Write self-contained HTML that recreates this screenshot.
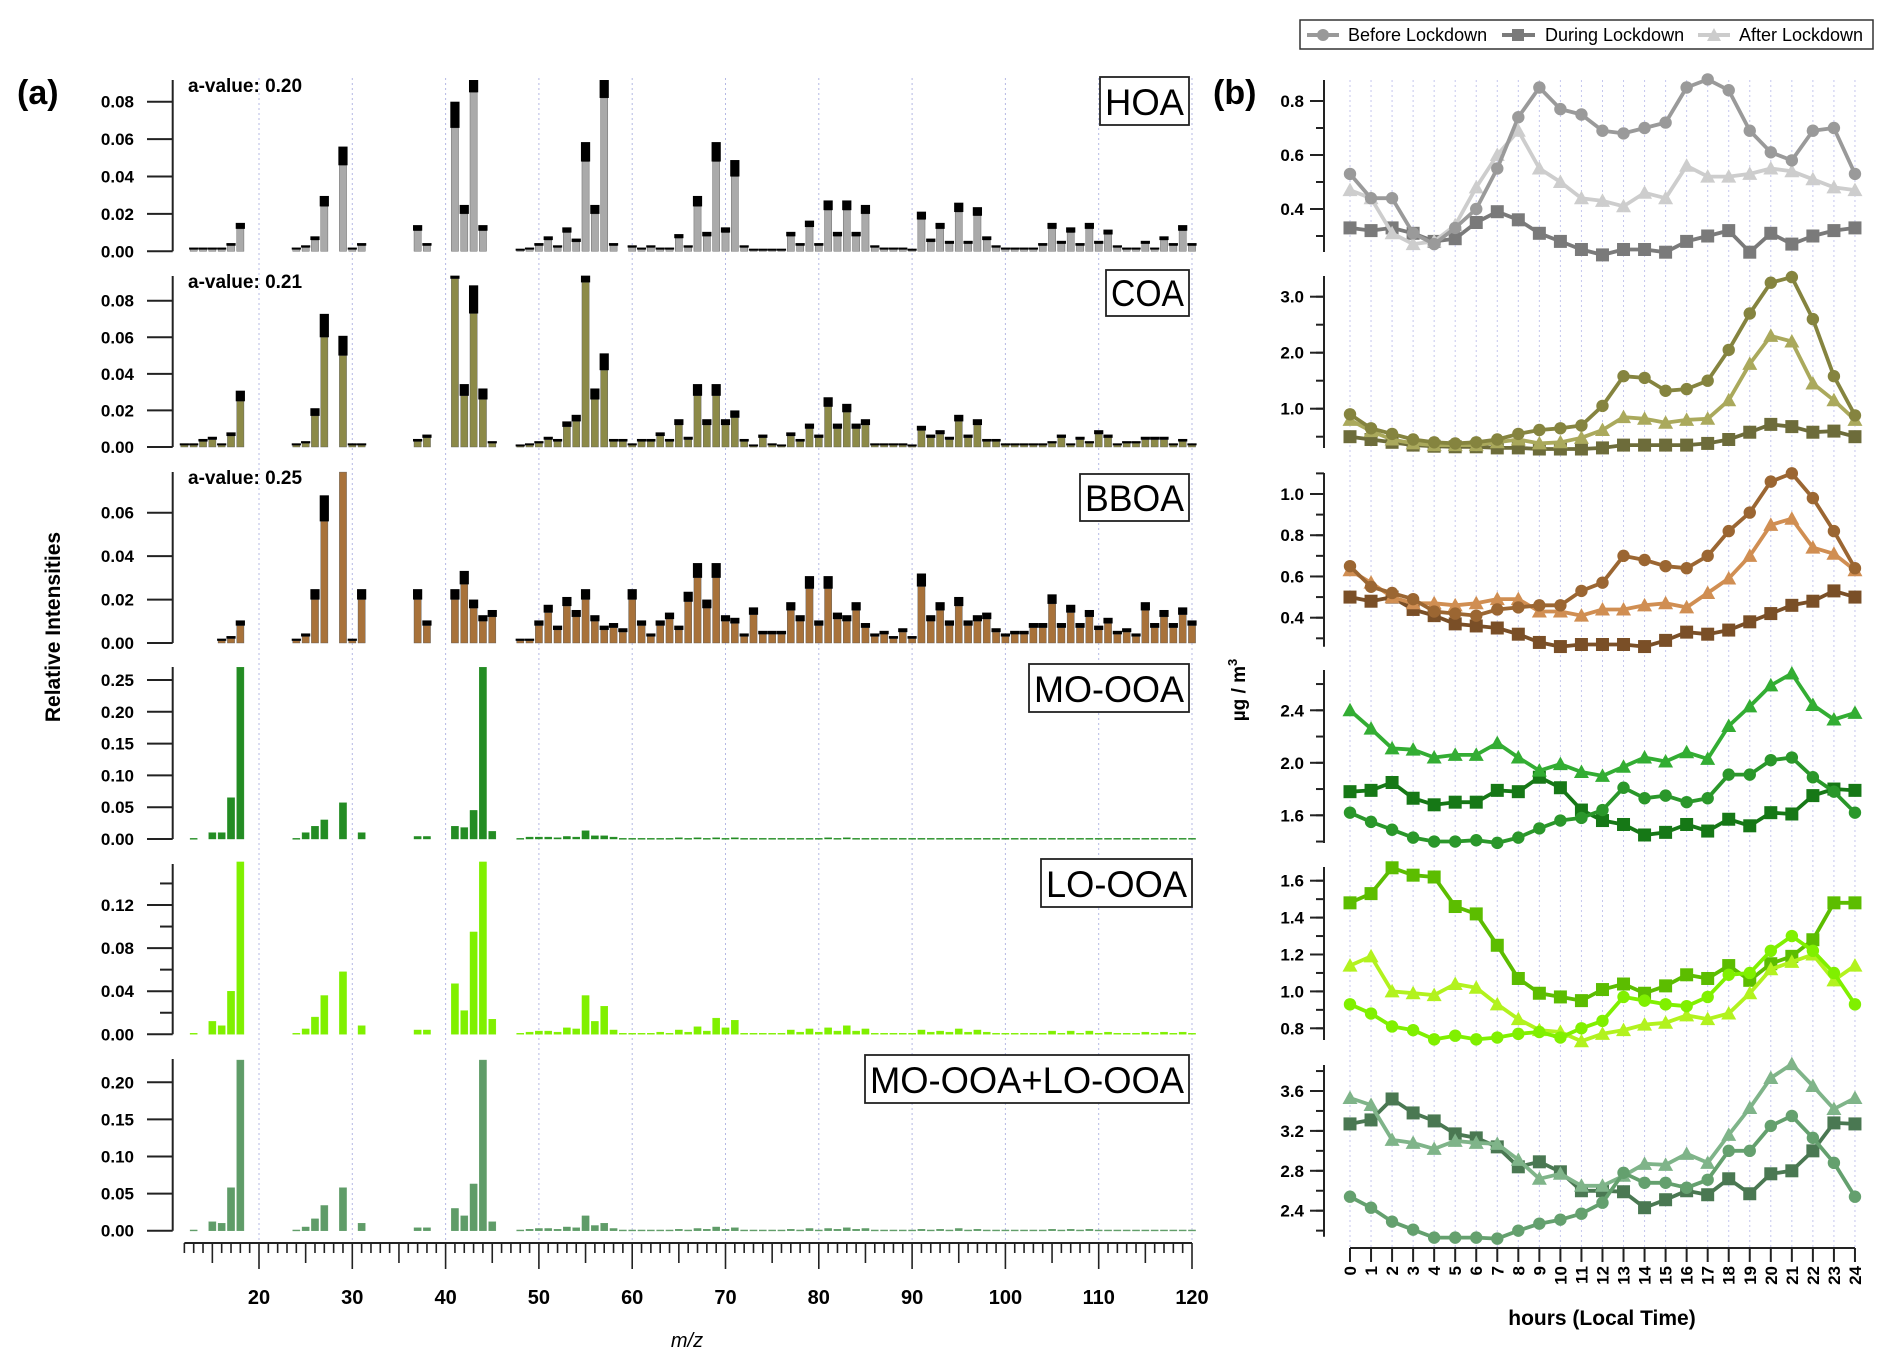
<!DOCTYPE html>
<html><head><meta charset="utf-8">
<style>
html,body{margin:0;padding:0;background:#fff;}
svg{display:block;font-family:"Liberation Sans",Arial,sans-serif;}
</style></head>
<body>
<svg id="chart" xmlns="http://www.w3.org/2000/svg" width="1892" height="1368" viewBox="0 0 1892 1368">
<rect width="1892" height="1368" fill="#fff"/>
<g id="left"></g>
<g id="right"></g>
<text x="17" y="104" font-size="34" font-weight="bold">(a)</text>
<text x="1213" y="104" font-size="34" font-weight="bold">(b)</text>
<text transform="translate(60,627) rotate(-90)" text-anchor="middle" font-size="21" font-weight="bold">Relative Intensities</text>
<text x="687" y="1347" text-anchor="middle" font-size="20" font-style="italic">m/z</text>
<text transform="translate(1245,690) rotate(-90)" text-anchor="middle" font-size="19" font-weight="bold">µg / m<tspan dy="-8" font-size="13">3</tspan></text>
<text x="1602" y="1325" text-anchor="middle" font-size="21" font-weight="bold">hours (Local Time)</text>
<g>
<rect x="1300" y="20" width="573" height="29" fill="#fff" stroke="#333" stroke-width="1.5"/>
<g><line x1="1307" y1="35" x2="1339" y2="35" stroke="#999" stroke-width="4"/><circle cx="1323" cy="35" r="6" fill="#999"/><text x="1348" y="41" font-size="18">Before Lockdown</text></g>
<g><line x1="1502" y1="35" x2="1535" y2="35" stroke="#7a7a7a" stroke-width="4"/><rect x="1512" y="29" width="12" height="12" fill="#7a7a7a"/><text x="1545" y="41" font-size="18">During Lockdown</text></g>
<g><line x1="1698" y1="35" x2="1730" y2="35" stroke="#ccc" stroke-width="4"/><polygon points="1714,28 1721,41 1707,41" fill="#ccc"/><text x="1739" y="41" font-size="18">After Lockdown</text></g>
</g>
</svg>
<script>
// ---------- LEFT: mass spectra data (m/z 12..120) ----------
const mzStart = 12, mzEnd = 120;
const hoaSpec = [0,0.001,0.001,0.001,0.001,0.003,0.012,0,0,0, 0,0,0.001,0.002,0.006,0.024,0,0.046,0.001,0.003, 0,0,0,0,0,0.011,0.003,0,0,0.066, 0.02,0.085,0.011,0,0,0,0.0005,0.001,0.003,0.006, 0.002,0.01,0.005,0.048,0.02,0.082,0.003,0,0.002,0.001, 0.002,0.001,0.001,0.007,0.002,0.024,0.008,0.048,0.01,0.04, 0.002,0.0005,0.0005,0.0005,0.0005,0.008,0.003,0.013,0.003,0.022, 0.008,0.022,0.008,0.02,0.002,0.001,0.001,0.001,0.0005,0.017, 0.005,0.012,0.004,0.021,0.004,0.019,0.006,0.002,0.001,0.001, 0.001,0.001,0.003,0.012,0.004,0.01,0.003,0.012,0.004,0.009, 0.002,0.001,0.001,0.004,0.001,0.006,0.003,0.011,0.003];
const coaSpec = [0.001,0.001,0.003,0.004,0.001,0.006,0.025,0,0,0, 0,0,0.001,0.002,0.017,0.06,0,0.05,0.001,0.001, 0,0,0,0,0,0.003,0.005,0,0,0.092, 0.028,0.073,0.026,0.002,0,0,0.0005,0.001,0.002,0.004, 0.003,0.011,0.014,0.09,0.026,0.042,0.003,0.003,0.001,0.003, 0.003,0.006,0.003,0.012,0.004,0.028,0.012,0.028,0.012,0.016, 0.003,0.0005,0.005,0.001,0.0005,0.006,0.003,0.01,0.005,0.022, 0.01,0.019,0.01,0.012,0.001,0.001,0.001,0.001,0.0005,0.009, 0.005,0.007,0.004,0.014,0.005,0.012,0.003,0.003,0.001,0.001, 0.001,0.001,0.001,0.002,0.005,0.001,0.004,0.002,0.007,0.005, 0.001,0.002,0.002,0.004,0.004,0.004,0.001,0.003,0.001];
const bboaSpec = [0,0,0,0,0.001,0.002,0.008,0,0,0, 0,0,0.001,0.003,0.02,0.056,0,0.085,0.001,0.02, 0,0,0,0,0,0.02,0.008,0,0,0.02, 0.027,0.016,0.01,0.012,0,0,0.001,0.001,0.008,0.014, 0.006,0.017,0.012,0.02,0.01,0.006,0.007,0.005,0.02,0.008, 0.003,0.008,0.011,0.006,0.019,0.03,0.016,0.03,0.01,0.009, 0.003,0.013,0.004,0.004,0.004,0.015,0.01,0.025,0.008,0.025, 0.011,0.01,0.015,0.007,0.003,0.004,0.002,0.005,0.002,0.026, 0.01,0.015,0.008,0.017,0.008,0.01,0.011,0.005,0.003,0.004, 0.004,0.007,0.007,0.018,0.007,0.014,0.007,0.012,0.006,0.009, 0.004,0.005,0.003,0.015,0.007,0.012,0.007,0.013,0.008];
const mooaSpec = [0,0.001,0,0.01,0.01,0.065,0.27,0,0,0, 0,0,0.001,0.01,0.02,0.03,0,0.057,0,0.01, 0,0,0,0,0,0.004,0.004,0,0,0.02, 0.018,0.045,0.27,0.012,0,0,0.001,0.003,0.003,0.003, 0.002,0.004,0.003,0.013,0.005,0.005,0.003,0.001,0.001,0.001, 0.001,0.001,0.001,0.002,0.001,0.002,0.001,0.002,0.001,0.002, 0.001,0.001,0.001,0.001,0.001,0.001,0.001,0.001,0.001,0.002, 0.001,0.002,0.001,0.001,0.001,0.001,0.001,0.001,0.001,0.001, 0.001,0.001,0.001,0.001,0.001,0.001,0.001,0.001,0.001,0.001, 0.001,0.001,0.001,0.001,0.001,0.001,0.001,0.001,0.001,0.001, 0.001,0.001,0.001,0.001,0.001,0.001,0.001,0.001,0.001];
const looaSpec = [0,0.001,0,0.012,0.008,0.04,0.16,0,0,0, 0,0,0.001,0.005,0.016,0.036,0,0.058,0,0.008, 0,0,0,0,0,0.004,0.004,0,0,0.047, 0.022,0.095,0.16,0.014,0,0,0.001,0.002,0.003,0.003, 0.002,0.006,0.005,0.036,0.012,0.026,0.004,0.001,0.001,0.001, 0.001,0.002,0.001,0.004,0.002,0.007,0.003,0.015,0.006,0.013, 0.001,0.001,0.001,0.001,0.001,0.004,0.002,0.005,0.002,0.006, 0.003,0.008,0.003,0.005,0.001,0.001,0.001,0.001,0.001,0.004, 0.002,0.003,0.002,0.005,0.002,0.004,0.002,0.001,0.001,0.001, 0.001,0.001,0.001,0.003,0.001,0.003,0.001,0.003,0.001,0.002, 0.001,0.001,0.001,0.002,0.001,0.002,0.001,0.002,0.001];
const mixSpec = [0,0.001,0,0.012,0.01,0.058,0.23,0,0,0, 0,0,0.001,0.005,0.016,0.034,0,0.058,0,0.01, 0,0,0,0,0,0.004,0.004,0,0,0.03, 0.02,0.063,0.23,0.012,0,0,0.001,0.002,0.003,0.003, 0.002,0.005,0.004,0.02,0.007,0.01,0.003,0.001,0.001,0.001, 0.001,0.001,0.001,0.002,0.001,0.003,0.002,0.005,0.002,0.004, 0.001,0.001,0.001,0.001,0.001,0.002,0.001,0.003,0.001,0.003, 0.002,0.004,0.002,0.003,0.001,0.001,0.001,0.001,0.001,0.002, 0.001,0.002,0.001,0.003,0.001,0.002,0.001,0.001,0.001,0.001, 0.001,0.001,0.001,0.002,0.001,0.002,0.001,0.002,0.001,0.001, 0.001,0.001,0.001,0.001,0.001,0.001,0.001,0.001,0.001];
const specTicksA = [0,0.02,0.04,0.06,0.08];
const specTicksB = [0,0.02,0.04,0.06];
const specTicksC = [0,0.05,0.10,0.15,0.20,0.25];
const specTicksD = [0,0.04,0.08,0.12];
const specTicksE = [0,0.05,0.10,0.15,0.20];
const mzTickLabels = [20,30,40,50,60,70,80,90,100,110,120];
const aValues = ["a-value: 0.20","a-value: 0.21","a-value: 0.25"];

// ---------- RIGHT: diurnal data (hours 0..24) ----------
const hourLabels = [0,1,2,3,4,5,6,7,8,9,10,11,12,13,14,15,16,17,18,19,20,21,22,23,24];
const hoaBefore = [0.53,0.44,0.44,0.31,0.27,0.33,0.40,0.55,0.74,0.85,0.77,0.75,0.69,0.68,0.70,0.72,0.85,0.88,0.84,0.69,0.61,0.58,0.69,0.70,0.53];
const hoaDuring = [0.33,0.32,0.33,0.31,0.28,0.29,0.35,0.39,0.36,0.31,0.28,0.25,0.23,0.25,0.25,0.24,0.28,0.30,0.32,0.24,0.31,0.27,0.30,0.32,0.33];
const hoaAfter = [0.47,0.44,0.31,0.27,0.28,0.34,0.48,0.60,0.69,0.55,0.50,0.44,0.43,0.41,0.46,0.44,0.56,0.52,0.52,0.53,0.55,0.54,0.51,0.48,0.47];
const coaBefore = [0.9,0.65,0.55,0.45,0.4,0.38,0.4,0.45,0.55,0.62,0.65,0.7,1.05,1.58,1.55,1.32,1.35,1.5,2.05,2.7,3.25,3.35,2.6,1.58,0.88];
const coaDuring = [0.5,0.45,0.4,0.35,0.33,0.32,0.32,0.3,0.3,0.28,0.28,0.28,0.3,0.35,0.35,0.35,0.35,0.38,0.45,0.58,0.72,0.68,0.58,0.6,0.5];
const coaAfter = [0.8,0.6,0.45,0.38,0.35,0.35,0.35,0.4,0.45,0.38,0.4,0.48,0.62,0.85,0.82,0.75,0.8,0.82,1.15,1.8,2.3,2.2,1.45,1.15,0.8];
const bboaBefore = [0.65,0.55,0.52,0.49,0.43,0.42,0.41,0.44,0.45,0.46,0.46,0.53,0.57,0.70,0.68,0.65,0.64,0.70,0.82,0.91,1.06,1.10,0.98,0.82,0.64];
const bboaDuring = [0.50,0.48,0.50,0.44,0.41,0.37,0.36,0.35,0.32,0.28,0.26,0.27,0.27,0.27,0.26,0.29,0.33,0.32,0.34,0.38,0.42,0.46,0.48,0.53,0.50];
const bboaAfter = [0.63,0.57,0.50,0.47,0.47,0.46,0.47,0.49,0.49,0.43,0.43,0.41,0.44,0.44,0.46,0.47,0.45,0.52,0.59,0.70,0.85,0.88,0.74,0.71,0.63];
const mooaBefore = [1.62,1.55,1.49,1.43,1.40,1.40,1.41,1.39,1.43,1.50,1.56,1.58,1.64,1.81,1.73,1.75,1.70,1.73,1.91,1.91,2.02,2.04,1.89,1.78,1.62];
const mooaDuring = [1.78,1.79,1.85,1.73,1.68,1.70,1.70,1.79,1.78,1.89,1.81,1.64,1.56,1.53,1.45,1.47,1.53,1.48,1.57,1.52,1.62,1.61,1.75,1.80,1.79];
const mooaAfter = [2.40,2.26,2.11,2.10,2.04,2.06,2.06,2.15,2.04,1.94,1.99,1.93,1.90,1.97,2.04,2.01,2.08,2.03,2.28,2.43,2.59,2.68,2.44,2.33,2.38];
const looaBefore = [0.93,0.88,0.81,0.79,0.74,0.76,0.74,0.75,0.77,0.78,0.75,0.80,0.84,0.97,0.95,0.93,0.92,0.97,1.09,1.10,1.22,1.30,1.22,1.10,0.93];
const looaDuring = [1.48,1.53,1.67,1.63,1.62,1.46,1.42,1.25,1.07,0.99,0.97,0.95,1.01,1.04,0.99,1.03,1.09,1.07,1.14,1.06,1.15,1.19,1.28,1.48,1.48];
const looaAfter = [1.14,1.19,1.00,0.99,0.98,1.04,1.02,0.93,0.85,0.79,0.78,0.73,0.77,0.79,0.82,0.83,0.87,0.85,0.88,0.99,1.12,1.16,1.20,1.06,1.14];
const mixBefore = [2.54,2.43,2.29,2.21,2.13,2.13,2.13,2.12,2.20,2.27,2.31,2.37,2.48,2.78,2.68,2.68,2.63,2.71,3.00,3.00,3.25,3.35,3.13,2.88,2.54];
const mixDuring = [3.27,3.31,3.52,3.38,3.30,3.17,3.13,3.04,2.84,2.89,2.79,2.60,2.60,2.59,2.43,2.51,2.60,2.56,2.72,2.57,2.77,2.80,3.00,3.28,3.27];
const mixAfter = [3.53,3.46,3.11,3.08,3.02,3.10,3.08,3.07,2.91,2.72,2.77,2.65,2.65,2.75,2.87,2.86,2.97,2.88,3.16,3.43,3.73,3.87,3.65,3.42,3.53];
const diTicksHoa = [0.4,0.6,0.8];
const diTicksCoa = [1.0,2.0,3.0];
const diTicksBboa = [0.4,0.6,0.8,1.0];
const diTicksMo = [1.6,2.0,2.4];
const diTicksLo = [0.8,1.0,1.2,1.4,1.6];
const diTicksMix = [2.4,2.8,3.2,3.6];

const NS = "http://www.w3.org/2000/svg";
function mk(tag, attrs, parent){ const e=document.createElementNS(NS,tag); for(const k in attrs) e.setAttribute(k,attrs[k]); parent.appendChild(e); return e; }
const L = document.getElementById('left');
const R = document.getElementById('right');

const xMz = m => 259 + (m-20)*9.33;
for (const m of mzTickLabels) {
  const g = mk('line',{x1:xMz(m),x2:xMz(m),y1:78,y2:1243,stroke:'#b4b8e4','stroke-width':1,'stroke-dasharray':'2,3'},L);
  
  
}

const specPanels = [
  {name:'hoa', vals:hoaSpec, ticks:specTicksA, top:80, zero:251.3, per:0.08/149.6, max:0.0916, color:'#aaaaaa', cap:true, label:'HOA', box:[1100,77,89,48], av:aValues[0], minor:[]},
  {name:'coa', vals:coaSpec, ticks:specTicksA, top:276, zero:447, per:0.08/146.3, max:0.0937, color:'#8c8a48', cap:true, label:'COA', box:[1106,270,83,46], av:aValues[1], minor:[]},
  {name:'bboa', vals:bboaSpec, ticks:specTicksB, top:472, zero:643, per:0.06/130.3, max:0.0787, color:'#a8723a', cap:true, label:'BBOA', box:[1080,474,109,47], av:aValues[2], minor:[]},
  {name:'mo-ooa', vals:mooaSpec, ticks:specTicksC, top:667, zero:839, per:0.25/159, max:0.2704, color:'#238c23', cap:false, label:'MO-OOA', box:[1029,664,160,48], minor:[]},
  {name:'lo-ooa', vals:looaSpec, ticks:specTicksD, top:864, zero:1034.3, per:0.12/129.3, max:0.1627, color:'#80f000', cap:false, label:'LO-OOA', box:[1041,859,151,48], minor:[0.02,0.06,0.10,0.14]},
  {name:'mo-lo-ooa', vals:mixSpec, ticks:specTicksE, top:1059, zero:1230.7, per:0.20/148.4, max:0.2316, color:'#5f9c68', cap:false, label:'MO-OOA+LO-OOA', box:[865,1055,324,48], minor:[]}
];
const capFrac = 0.2;
for (const p of specPanels) {
  const g = mk('g',{},L);
  
  
  const y = v => p.zero - Math.min(v,p.max)/p.per;
  const ax = mk('line',{x1:172.7,x2:172.7,y1:p.top,y2:p.zero,stroke:'#222','stroke-width':2},g);
  
  
  for (const t of p.ticks) {
    mk('line',{x1:147,x2:172.7,y1:y(t),y2:y(t),stroke:'#222','stroke-width':2},g);
    const tx = mk('text',{x:134,y:y(t)+6,'text-anchor':'end','font-size':17,'font-weight':'bold'},g);
    tx.textContent = t.toFixed(2);
    
    
  }
  for (const t of p.minor) mk('line',{x1:160,x2:172.7,y1:y(t),y2:y(t),stroke:'#222','stroke-width':2},g);
  p.vals.forEach((v,i)=>{
    if (!v) return;
    const m = mzStart + i;
    const cx = xMz(m);
    const b = mk('rect',{x:cx-3.6,y:y(v),width:7.2,height:Math.max(p.zero-y(v),1),fill:p.color,stroke:p.cap?'#555':p.color,'stroke-width':0.4},g);
    
    
    if (p.cap) {
      const top = v*(1+capFrac)+0.0008;
      const cy1 = y(top), cy2 = y(v);
      if (cy2 > cy1) {
        const c = mk('rect',{x:cx-4.6,y:cy1,width:9.2,height:Math.max(cy2-cy1,2),fill:'#000'},g);
        
        
      }
    }
  });
  const bx = mk('rect',{x:p.box[0],y:p.box[1],width:p.box[2],height:p.box[3],fill:'#fff',stroke:'#222','stroke-width':1.8},g);
  
  
  const lt = mk('text',{x:p.box[0]+p.box[2]/2,y:p.box[1]+p.box[3]-10,'text-anchor':'middle','font-size':37,textLength:p.box[2]-10,lengthAdjust:'spacingAndGlyphs'},g);
  lt.textContent = p.label;
  
  
  if (p.av) {
    const at = mk('text',{x:188,y:p.top+12,'font-size':19,'font-weight':'bold'},g);
    at.textContent = p.av;
    
    
  }
}
const xa = mk('g',{},L);


mk('line',{x1:xMz(mzStart),x2:xMz(mzEnd),y1:1243,y2:1243,stroke:'#222','stroke-width':2},xa);
for (let m=mzStart;m<=mzEnd;m++){
  const len = (m%10===0)?26:(m%5===0?20:10);
  mk('line',{x1:xMz(m),x2:xMz(m),y1:1243,y2:1243+len,stroke:'#222','stroke-width':1.6},xa);
}
for (const m of mzTickLabels){
  const t = mk('text',{x:xMz(m),y:1304,'text-anchor':'middle','font-size':20,'font-weight':'bold'},xa);
  t.textContent = m;
  
  
}

// ---------- RIGHT ----------
const xH = h => 1350 + h*21.04;
for (const h of hourLabels) {
  const g = mk('line',{x1:xH(h),x2:xH(h),y1:80,y2:1248,stroke:'#c4c6ee','stroke-width':1,'stroke-dasharray':'2,3'},R);
  
  
}
const diPanels = [
  {name:'hoa', ser:[hoaBefore,hoaDuring,hoaAfter], col:['#9a9a9a','#7a7a7a','#cdcdcd'], ticks:diTicksHoa, y0:0.8, py0:101, y1:0.4, py1:209, top:80, bot:252, minorStep:0.1, vmin:0.3, vmax:0.9},
  {name:'coa', ser:[coaBefore,coaDuring,coaAfter], col:['#85843f','#6d6c3a','#aaa95c'], ticks:diTicksCoa, y0:3.0, py0:296.7, y1:1.0, py1:408.7, top:276, bot:448, minorStep:0.5, vmin:0.5, vmax:3.5},
  {name:'bboa', ser:[bboaBefore,bboaDuring,bboaAfter], col:['#9b6632','#7a4f27','#d08e52'], ticks:diTicksBboa, y0:1.0, py0:494, y1:0.4, py1:617.7, top:473, bot:646.7, minorStep:0.1, vmin:0.3, vmax:1.1},
  {name:'mo-ooa', ser:[mooaBefore,mooaDuring,mooaAfter], col:['#2a972a','#167816','#33ad33'], ticks:diTicksMo, y0:2.4, py0:710.3, y1:1.6, py1:815.3, top:670, bot:843, minorStep:0.2, vmin:1.4, vmax:2.6},
  {name:'lo-ooa', ser:[looaBefore,looaDuring,looaAfter], col:['#80f000','#5cbd00','#b2f21e'], ticks:diTicksLo, y0:1.6, py0:880.7, y1:0.8, py1:1028.3, top:867, bot:1040, minorStep:0.1, vmin:0.8, vmax:1.6},
  {name:'mo-lo-ooa', ser:[mixBefore,mixDuring,mixAfter], col:['#64a06e','#4a7852','#7fb489'], ticks:diTicksMix, y0:3.6, py0:1091, y1:2.4, py1:1210.7, top:1065, bot:1236.7, minorStep:0.2, vmin:2.2, vmax:3.8}
];
const serNames = ['before','during','after'];
for (const p of diPanels){
  const g = mk('g',{},R);
  
  
  const y = v => p.py0 + (v-p.y0)*(p.py1-p.py0)/(p.y1-p.y0);
  mk('line',{x1:1324,x2:1324,y1:p.top,y2:p.bot,stroke:'#222','stroke-width':2},g);
  for (let v=p.vmin; v<=p.vmax+1e-9; v+=p.minorStep){
    const yy=y(v); if (yy<p.top||yy>p.bot) continue;
    mk('line',{x1:1316,x2:1324,y1:yy,y2:yy,stroke:'#222','stroke-width':2},g);
  }
  for (const t of p.ticks){
    mk('line',{x1:1310,x2:1324,y1:y(t),y2:y(t),stroke:'#222','stroke-width':2},g);
    const tx = mk('text',{x:1304,y:y(t)+6,'text-anchor':'end','font-size':17,'font-weight':'bold'},g);
    tx.textContent = t.toFixed(1);
    
    
  }
  const order=[1,2,0];
  for (const si of order){
    const s = p.ser[si], c = p.col[si];
    const sg = mk('g',{},g);
    
    
    const pts = s.map((v,i)=>xH(hourLabels[i]).toFixed(1)+','+y(v).toFixed(1)).join(' ');
    mk('polyline',{points:pts,fill:'none',stroke:c,'stroke-width':3.8,'stroke-linejoin':'round'},sg);
    s.forEach((v,i)=>{
      const cx=xH(hourLabels[i]), cy=y(v);
      let m;
      if (si===0) m = mk('circle',{cx:cx,cy:cy,r:6.2,fill:c},sg);
      else if (si===1) m = mk('rect',{x:cx-6.5,y:cy-6.5,width:13,height:13,fill:c},sg);
      else m = mk('polygon',{points:`${cx},${cy-7.5} ${cx+7.5},${cy+6} ${cx-7.5},${cy+6}`,fill:c},sg);
      
      
    });
  }
}
const ha = mk('g',{},R);


mk('line',{x1:xH(0),x2:xH(24),y1:1248,y2:1248,stroke:'#222','stroke-width':2},ha);
for (const h of hourLabels){
  mk('line',{x1:xH(h),x2:xH(h),y1:1248,y2:1262,stroke:'#222','stroke-width':2},ha);
  const t = mk('text',{transform:`translate(${xH(h)+6},1266) rotate(-90)`,'text-anchor':'end','font-size':17,'font-weight':'bold'},ha);
  t.textContent = h;
  
  
}
</script>
</body></html>
